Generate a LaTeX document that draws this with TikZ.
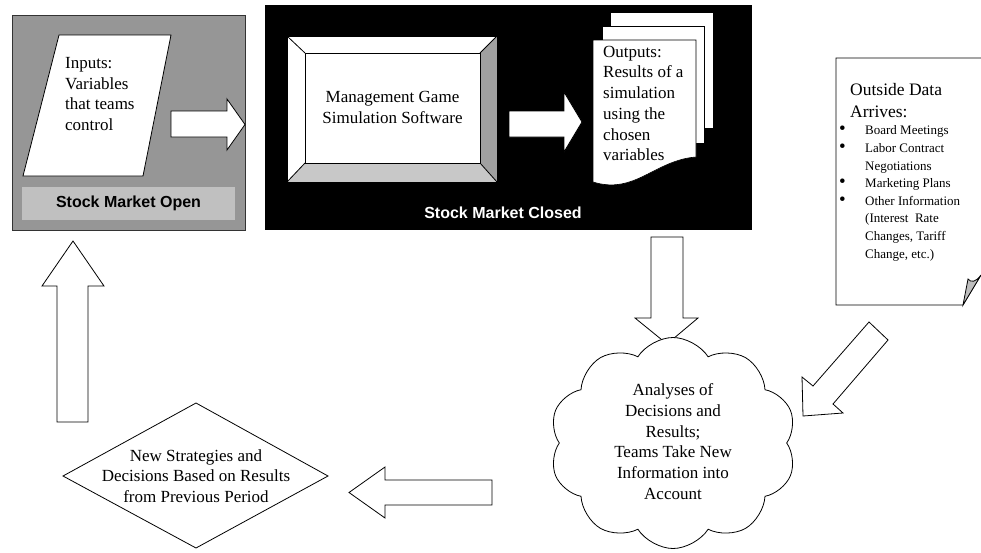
\documentclass[tikz,border=0pt]{standalone}
\usepackage{fontspec}
\setmainfont{Liberation Serif}
\setsansfont{Liberation Sans}
\usetikzlibrary{shapes.symbols,shapes.geometric}
\definecolor{midgray}{RGB}{150,150,150}
\definecolor{lightbar}{RGB}{192,192,192}
\definecolor{darkbevel}{RGB}{160,160,160}
\definecolor{lightbevel}{RGB}{200,200,200}
\definecolor{foldgray}{RGB}{190,190,190}
\newcommand{\bigbul}{{\fontsize{19}{17.6}\selectfont\textbullet}}
\begin{document}
\begin{tikzpicture}[x=1pt,y=-1pt,line join=miter,
  outl/.style={draw=black,line width=0.8pt},
  blockarrow/.style={draw=black,line width=0.8pt,fill=white},
  bodytext/.style={font=\fontsize{17}{20.7}\selectfont,inner sep=0pt},
  bartext/.style={font=\fontsize{16}{19}\selectfont\sffamily\bfseries,inner sep=0pt},
  smalltext/.style={font=\fontsize{13}{17.6}\selectfont,inner sep=0pt}]
\useasboundingbox (0,0) rectangle (981,552);
\fill[white] (0,0) rectangle (981,552);

% ---- Stock market open (gray) box
\node (openbox) [draw=black!80,line width=0.8pt,fill=midgray,minimum width=233pt,minimum height=215pt,inner sep=0pt,anchor=north west] at (12,15) {};
\node (openbar) [fill=lightbar,minimum width=213pt,minimum height=33pt,inner sep=0pt,bartext] at (128.5,203.5) {Stock Market Open};
\draw[outl,fill=white] (59,35) coordinate (pA) -- (171,35) -- (143,176) -- (23,176) -- cycle;
\node (inputs) [bodytext,align=left,anchor=west] at (65,94) {Inputs:\\Variables\\that teams\\control};

% arrow 1
\draw[blockarrow] (171,111) -- (227,111) -- (227,99) -- (245,124.5) -- (227,150) -- (227,137) -- (171,137) -- cycle;

% ---- Stock market closed (black) box
\node (closedbox) [fill=black,minimum width=487pt,minimum height=225pt,inner sep=0pt,anchor=north west] at (265,5) {};
\node (closedlbl) [bartext,text=white] at (503,213) {Stock Market Closed};

% bevel box
\fill[white] (287,36) rectangle (497,182);
\fill[darkbevel] (480,53) -- (497,36) -- (497,182) -- (480,163) -- cycle;
\fill[lightbevel] (287,182) -- (305,163) -- (480,163) -- (497,182) -- cycle;
\draw[outl] (287,36) rectangle (497,182);
\draw[outl] (305,53) rectangle (480,163);
\draw[outl] (287,36) -- (305,53) (497,36) -- (480,53) (287,182) -- (305,163) (497,182) -- (480,163);
\node (software) [bodytext,align=center] at (392.5,107.5) {Management Game\\Simulation Software};

% arrow 2
\draw[blockarrow] (509,111) -- (564,111) -- (564,92) -- (582,122) -- (564,152) -- (564,137) -- (509,137) -- cycle;

% outputs multi-document
\draw[fill=white,draw=black,line width=0.6pt] (610,12) rectangle (713,128);
\draw[fill=white,draw=black,line width=0.6pt] (602,26) rectangle (704,143);
\draw[fill=white,draw=black,line width=0.6pt] (593,40) -- (696,40) -- (696,157)
  .. controls (655,160) and (635,195) .. (593,182) -- cycle;
\node (outputs) [bodytext,align=left,anchor=west] at (603,103.5) {Outputs:\\Results of a\\simulation\\using the\\chosen\\variables};

% down arrow
\draw[blockarrow] (651,237) -- (683,237) -- (683,318) -- (698,318) -- (667,344) -- (635,318) -- (651,318) -- cycle;

% ---- Outside data document
\draw[outl,fill=white] (983,58) -- (836,58) -- (836,305) -- (963,305) -- (981,275);
\draw[outl,fill=foldgray] (963,305) -- (968,279) .. controls (971,283) and (976,282) .. (981,275) -- cycle;
\node (outhead) [font=\fontsize{17.5}{22}\selectfont,inner sep=0pt,align=left,anchor=west] at (850,101) {Outside Data\\Arrives:};
\node (outlist) [smalltext,anchor=west] at (839,193) {%
\begin{tabular}{@{}p{26pt}@{}l@{}}
\bigbul & Board Meetings\\
\bigbul & Labor Contract\\
 & Negotiations\\
\bigbul & Marketing Plans\\
\bigbul & Other Information\\
 & (Interest\ \ Rate\\
 & Changes, Tariff\\
 & Change, etc.)
\end{tabular}};

% diagonal arrow
\draw[blockarrow] (869,322) -- (813,386) -- (802,377) -- (803,416) -- (843,413) -- (833,404) -- (888,340) -- cycle;

% ---- Cloud
\node (cloud) [cloud,cloud puffs=10,cloud puff arc=115,aspect=1.17,outl,fill=white,minimum width=247pt,minimum height=211pt,inner sep=0pt] at (673,443) {};
\node (cloudtext) [bodytext,align=center] at (673,441.5) {Analyses of\\Decisions and\\Results;\\Teams Take New\\Information into\\Account};

% left arrow
\draw[blockarrow] (492,480) -- (385,480) -- (385,467) -- (349,492.5) -- (385,518) -- (385,505) -- (492,505) -- cycle;

% ---- Diamond
\draw[outl,fill=white] (63,476) -- (196,403) -- (328,476) -- (196,548) -- cycle;
\node (diamtext) [bodytext,align=center] at (196,476) {New Strategies and\\Decisions Based on Results\\from Previous Period};

% up arrow
\draw[blockarrow] (57,422) -- (57,286) -- (42,286) -- (73,241) -- (104,286) -- (88,286) -- (88,422) -- cycle;
\end{tikzpicture}
\end{document}
